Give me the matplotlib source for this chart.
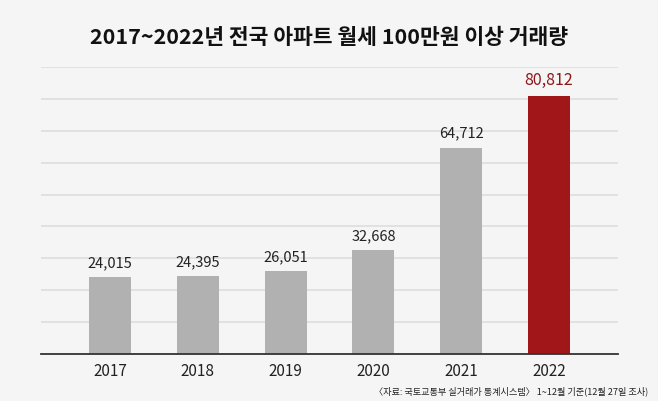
import matplotlib
matplotlib.use("Agg")
import matplotlib.pyplot as plt

plt.rcParams['font.family'] = ['Noto Sans CJK KR', 'DejaVu Sans']

years = ["2017", "2018", "2019", "2020", "2021", "2022"]
values = [24015, 24395, 26051, 32668, 64712, 80812]
labels = ["24,015", "24,395", "26,051", "32,668", "64,712", "80,812"]
title = "2017~2022년 전국 아파트 월세 100만원 이상 거래량"
source = "〈자료: 국토교통부 실거래가 통계시스템〉 1~12월 기준(12월 27일 조사)"

bg = "#f5f5f5"
grey = "#b1b1b1"
red = "#a01619"

fig = plt.figure(figsize=(6.58, 4.01), dpi=100, facecolor=bg)
ax = fig.add_axes([41/658, 47/401, 577/658, 287/401])
ax.set_facecolor(bg)

x = list(range(len(years)))
colors = [grey]*(len(years)-1) + [red]
ax.bar(x, values, width=0.48, color=colors, zorder=3)

ax.set_xlim(-0.786, 5.786)
ax.set_ylim(0, 90000)
ax.set_yticks(range(10000, 90001, 10000))
ax.yaxis.grid(True, color="#dcdcdc", linewidth=1.1, zorder=0)
ax.tick_params(axis='y', left=False, labelleft=False)
ax.tick_params(axis='x', bottom=False, labelsize=11, pad=3, colors="#222222")
ax.set_xticks(x)
ax.set_xticklabels(years)
for s in ["left", "right", "top"]:
    ax.spines[s].set_visible(False)
ax.spines["bottom"].set_color("#333333")
ax.spines["bottom"].set_linewidth(1.3)
ax.spines["bottom"].set_zorder(4)

for i, (v, lab) in enumerate(zip(values, labels)):
    last = i == len(values) - 1
    ax.annotate(lab, (i, v), xytext=(0, 5), textcoords="offset points",
                ha="center", va="bottom", fontsize=11.5 if last else 10.5,
                color="#8e1618" if last else "#222222", clip_on=False)

fig.text(0.5, 1 - 38/401, title, ha="center", va="center", fontsize=15.5,
         fontweight="bold", color="#111111")
fig.text(648/658, 1 - 391/401, source, ha="right", va="center", fontsize=6.6,
         color="#222222")

fig.savefig("out.png", dpi=100, facecolor=bg)
